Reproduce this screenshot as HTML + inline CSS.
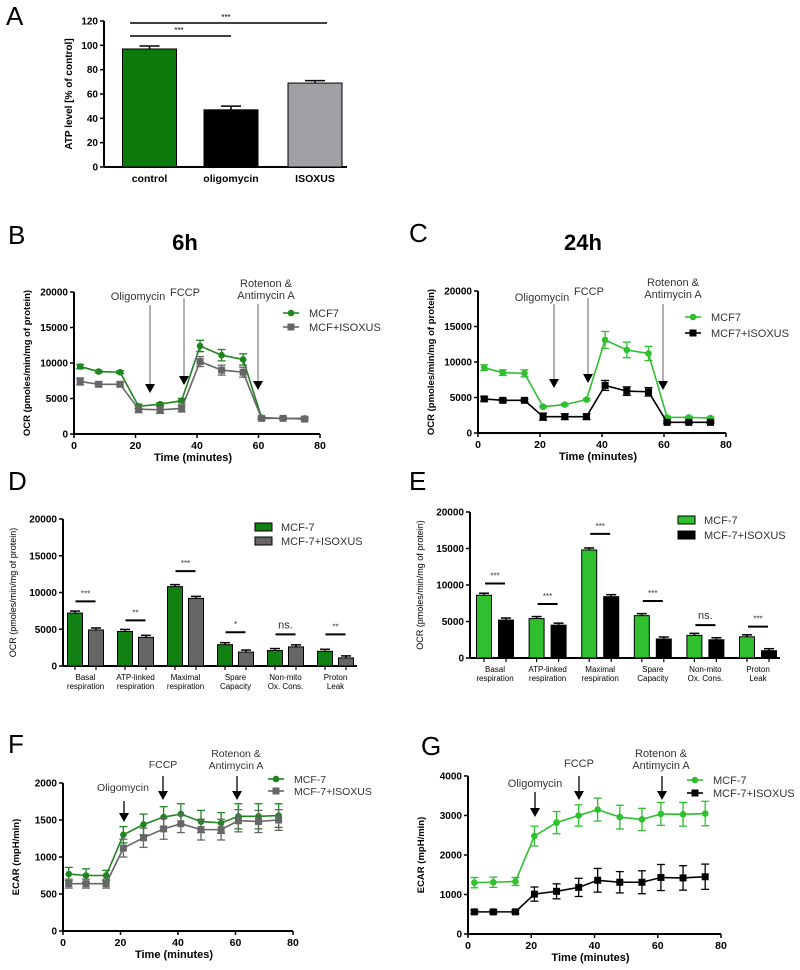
<!DOCTYPE html>
<html><head><meta charset="utf-8"><style>
body{margin:0;background:#fff;}
svg{display:block;font-family:"Liberation Sans",Arial,sans-serif;}
</style></head><body>
<svg id="fig" width="800" height="970" viewBox="0 0 800 970" xmlns="http://www.w3.org/2000/svg"></svg>
<script>
// ---- data ----
const aCats=["control","oligomycin","ISOXUS"];
const aVals=[97,47,69];
const aErrs=[2.5,3,2];
const times=[2,8,15,21,28,35,41,48,55,61,68,75];
const bMcf7=[9500,8800,8700,3900,4200,4700,12400,11100,10500,2300,2200,2200];
const bMcf7Err=[300,200,200,300,200,300,800,800,800,150,150,150];
const bIsox=[7400,7000,7000,3500,3400,3600,10200,9000,8700,2200,2200,2100];
const bIsoxErr=[500,300,300,500,500,500,700,700,700,150,150,150];
const cMcf7=[9200,8500,8400,3700,4000,4700,13100,11700,11200,2200,2200,2100];
const cMcf7Err=[400,400,500,150,150,150,1200,1100,1000,150,150,150];
const cIsox=[4800,4600,4600,2300,2300,2300,6700,5900,5800,1500,1500,1500];
const cIsoxErr=[300,200,200,500,400,400,700,600,600,150,150,150];
const dCats=[["Basal","respiration"],["ATP-linked","respiration"],["Maximal","respiration"],["Spare","Capacity"],["Non-mito","Ox. Cons."],["Proton","Leak"]];
const dMcf7=[7200,4700,10800,2900,2100,2000];
const dIsox=[4900,3900,9200,1900,2600,1100];
const dSig=["***","**","***","*","ns.","**"];
const dSigY=[8800,6200,12900,4600,4300,4300];
const eMcf7=[8600,5400,14800,5800,3100,2900];
const eIsox=[5200,4500,8400,2600,2500,1000];
const eSig=["***","***","***","***","ns.","***"];
const eSigY=[10200,7400,17000,7800,4500,4300];
const fMcf7=[770,750,750,1300,1440,1540,1580,1480,1460,1550,1550,1560];
const fMcf7Err=[90,90,70,110,140,140,140,150,140,170,170,160];
const fIsox=[640,640,640,1120,1260,1380,1450,1370,1370,1490,1480,1500];
const fIsoxErr=[60,60,60,120,130,140,120,140,140,150,150,140];
const gMcf7=[1300,1310,1330,2480,2820,3000,3150,2960,2900,3040,3030,3050];
const gMcf7Err=[130,130,100,250,280,270,290,300,280,290,300,310];
const gIsox=[560,560,560,1010,1080,1180,1360,1310,1310,1430,1420,1450];
const gIsoxErr=[40,40,40,180,190,230,300,270,290,330,310,320];

const NS="http://www.w3.org/2000/svg";
const fig=document.getElementById('fig');
function mk(tag,attrs,parent,txt){const e=document.createElementNS(NS,tag);for(const k in attrs)e.setAttribute(k,attrs[k]);if(txt!==undefined)e.textContent=txt;(parent||fig).appendChild(e);return e;}
function lin(d0,d1,p0,p1){return v=>p0+(v-d0)*(p1-p0)/(d1-d0);}
function grp(name){const g=mk('g',{});


return g;}
function txt(p,x,y,s,size,opts){opts=opts||{};const t=mk('text',{x:x,y:y,'font-size':size,'text-anchor':opts.anchor||'middle','font-weight':opts.bold?'bold':'normal',fill:opts.fill||'#000'},p,s);if(opts.rot)t.setAttribute('transform','rotate(-90 '+x+' '+y+')');


return t;}
function line(p,x1,y1,x2,y2,c,w){return mk('line',{x1:x1,y1:y1,x2:x2,y2:y2,stroke:c||'#000','stroke-width':w||1.5},p);}
function yAxis(p,x,sy,ticks,x2,y0){line(p,x,sy(ticks[ticks.length-1]),x,sy(0)+0.5,'#000',2);line(p,x,sy(0),x2,sy(0),'#000',2);
ticks.forEach(t=>{line(p,x-4,sy(t),x,sy(t),'#000',1.5);txt(p,x-6,sy(t)+3.5,String(t),10,{anchor:'end',bold:true,name:'y-tick-label'});});}
function xTicks(p,sx,y,ticks){ticks.forEach(t=>{line(p,sx(t),y,sx(t),y+4,'#000',1.5);txt(p,sx(t),y+15,String(t),10.5,{bold:true,name:'x-tick-label'});});}
function arrow(p,x,y1,y2,c){line(p,x,y1,x,y2-8,c,1.3);mk('polygon',{points:(x-5)+','+(y2-9)+' '+(x+5)+','+(y2-9)+' '+x+','+y2,fill:'#000'},p);}

// ---- panel letters ----
[["A",6,25],["B",8,244],["C",409,242],["D",8,490],["E",409,490],["F",8,753],["G",421,755]].forEach(a=>{const t=txt(fig,a[1],a[2],a[0],26,{anchor:'start'});});

// ---- panel A ----
(function(){const g=grp('panel-a-chart');const sy=lin(0,120,167,21);
const cx=[149.5,231,315];
yAxis(g,104,sy,[0,20,40,60,80,100,120],347);
const cols=["#0b7a0b","#000","#a0a0a4"];
aVals.forEach((v,i)=>{const r=mk('rect',{x:cx[i]-27,y:sy(v),width:54,height:sy(0)-sy(v),fill:cols[i],stroke:'#000','stroke-width':1},g);


line(g,cx[i],sy(v),cx[i],sy(v+aErrs[i]),'#000',1.5);line(g,cx[i]-10,sy(v+aErrs[i]),cx[i]+10,sy(v+aErrs[i]),'#000',1.5);
txt(g,cx[i],182,aCats[i],10.5,{bold:true,name:'x-category-label'});});
line(g,130,23,327,23,'#000',1.5);line(g,130,36,231,36,'#000',1.5);
txt(g,226,20,'***',8,{name:'significance-label'});txt(g,179,33,'***',8,{name:'significance-label'});
txt(g,72,94,'ATP level [% of control]',10,{bold:true,rot:true,name:'y-axis-title'});})();

// ---- line charts ----
function lineChart(cfg){const g=grp(cfg.name);const sx=lin(0,80,cfg.x0,cfg.x80);const sy=lin(0,cfg.ymax,cfg.y0,cfg.ytop);
yAxis(g,cfg.x0,sy,cfg.yticks,cfg.x80);xTicks(g,sx,cfg.y0,[0,20,40,60,80]);
txt(g,(cfg.x0+cfg.x80)/2-4,cfg.y0+27,'Time (minutes)',11,{bold:true,name:'x-axis-title'});
txt(g,cfg.x0-44,(cfg.y0+cfg.ytop)/2,cfg.ytitle,9.5,{bold:true,rot:true,name:'y-axis-title'});
cfg.series.forEach((s,si)=>{const pts=times.map((t,i)=>sx(t)+','+sy(s.vals[i])).join(' ');
const pl=mk('polyline',{points:pts,fill:'none',stroke:s.col,'stroke-width':1.6},g);


times.forEach((t,i)=>{const x=sx(t),v=s.vals[i],e=s.errs[i];
line(g,x,sy(v-e),x,sy(v+e),s.col,1.3);line(g,x-4,sy(v+e),x+4,sy(v+e),s.col,1.3);line(g,x-4,sy(v-e),x+4,sy(v-e),s.col,1.3);
let m;if(s.sq){m=mk('rect',{x:x-3.5,y:sy(v)-3.5,width:7,height:7,fill:s.col},g);}else{m=mk('circle',{cx:x,cy:sy(v),r:3.3,fill:s.col},g);}

});
const ly=cfg.legY+si*cfg.legDy;line(g,cfg.legX,ly,cfg.legX+16,ly,s.col,1.6);
if(s.sq)mk('rect',{x:cfg.legX+4.5,y:ly-3.5,width:7,height:7,fill:s.col},g);else mk('circle',{cx:cfg.legX+8,cy:ly,r:3.3,fill:s.col},g);
txt(g,cfg.legX+26,ly+4,s.label,cfg.legFont,{anchor:'start',fill:'#333',name:'legend-entry'});});
cfg.arrows.forEach(a=>{arrow(g,a.x,a.y1,a.y2,a.c);a.labels.forEach((l,j)=>txt(g,a.lx,a.ly+j*12,l,cfg.annFont,{fill:'#333',name:'injection-label'}));});}

lineChart({name:'panel-b-chart',x0:74,x80:320,y0:434,ytop:292,ymax:20000,yticks:[0,5000,10000,15000,20000],ytitle:'OCR (pmoles/min/mg of protein)',
legX:283,legY:313,legDy:14,legFont:11,annFont:11,
series:[{key:'mcf7',label:'MCF7',vals:bMcf7,errs:bMcf7Err,col:'#1f861f'},{key:'isoxus',label:'MCF+ISOXUS',vals:bIsox,errs:bIsoxErr,col:'#666',sq:true}],
arrows:[{x:150,y1:305,y2:393,c:'#888',lx:138,ly:300,labels:['Oligomycin']},{x:184,y1:298,y2:385,c:'#888',lx:185,ly:296,labels:['FCCP']},{x:258,y1:304,y2:390,c:'#888',lx:266,ly:287,labels:['Rotenon &','Antimycin A']}]});
lineChart({name:'panel-c-chart',x0:478,x80:726,y0:433,ytop:291,ymax:20000,yticks:[0,5000,10000,15000,20000],ytitle:'OCR (pmoles/min/mg of protein)',
legX:685,legY:317,legDy:16,legFont:11,annFont:11,
series:[{key:'mcf7',label:'MCF7',vals:cMcf7,errs:cMcf7Err,col:'#2fbf2f'},{key:'isoxus',label:'MCF7+ISOXUS',vals:cIsox,errs:cIsoxErr,col:'#000',sq:true}],
arrows:[{x:554,y1:304,y2:388,c:'#888',lx:542,ly:301,labels:['Oligomycin']},{x:588,y1:298,y2:383,c:'#888',lx:589,ly:295,labels:['FCCP']},{x:663,y1:304,y2:390,c:'#888',lx:673,ly:286,labels:['Rotenon &','Antimycin A']}]});
lineChart({name:'panel-f-chart',x0:63,x80:293,y0:931,ytop:783,ymax:2000,yticks:[0,500,1000,1500,2000],ytitle:'ECAR (mpH/min)',
legX:268,legY:779,legDy:12,legFont:10.5,annFont:10.5,
series:[{key:'mcf7',label:'MCF-7',vals:fMcf7,errs:fMcf7Err,col:'#1f861f'},{key:'isoxus',label:'MCF-7+ISOXUS',vals:fIsox,errs:fIsoxErr,col:'#666',sq:true}],
arrows:[{x:124,y1:801,y2:822,c:'#000',lx:123,ly:791,labels:['Oligomycin']},{x:163,y1:776,y2:800,c:'#000',lx:163,ly:768,labels:['FCCP']},{x:237,y1:776,y2:800,c:'#000',lx:236,ly:757,labels:['Rotenon &','Antimycin A']}]});
lineChart({name:'panel-g-chart',x0:468,x80:721,y0:934,ytop:776,ymax:4000,yticks:[0,1000,2000,3000,4000],ytitle:'ECAR (mpH/min)',
legX:687,legY:780,legDy:13,legFont:11,annFont:11,
series:[{key:'mcf7',label:'MCF-7',vals:gMcf7,errs:gMcf7Err,col:'#2fbf2f'},{key:'isoxus',label:'MCF-7+ISOXUS',vals:gIsox,errs:gIsoxErr,col:'#000',sq:true}],
arrows:[{x:535,y1:792,y2:817,c:'#000',lx:535,ly:787,labels:['Oligomycin']},{x:579,y1:776,y2:800,c:'#000',lx:579,ly:767,labels:['FCCP']},{x:662,y1:776,y2:800,c:'#000',lx:661,ly:757,labels:['Rotenon &','Antimycin A']}]});

// ---- bar charts ----
function barChart(cfg){const g=grp(cfg.name);const sy=lin(0,20000,cfg.y0,cfg.ytop);
yAxis(g,cfg.x0,sy,[0,5000,10000,15000,20000],cfg.xEnd);
txt(g,cfg.x0-47,(cfg.y0+cfg.ytop)/2,'OCR (pmoles/min/mg of protein)',9,{rot:true,name:'y-axis-title'});
dCats.forEach((c,i)=>{const gx=cfg.g0+i*cfg.step;
[[cfg.a,cfg.colA,'mcf7',0],[cfg.b,cfg.colB,'isoxus',cfg.off]].forEach(s=>{const v=s[0][i],x=gx+s[3];
line(g,x,sy(v),x,sy(v)-2,'#000',1.5);line(g,x-5,sy(v)-2,x+5,sy(v)-2,'#000',1.5);
const r=mk('rect',{x:x-cfg.bw/2,y:sy(v),width:cfg.bw,height:sy(0)-sy(v),fill:s[1],stroke:'#000','stroke-width':1},g);


line(g,x,sy(0),x,sy(0)+4,'#000',1.2);});
const mx=gx+cfg.off/2;txt(g,mx,cfg.y0+14,c[0],8,{name:'x-category-label'});txt(g,mx,cfg.y0+23,c[1],8,{name:'x-category-label'});
const ly=sy(cfg.sigY[i]);line(g,mx-10,ly,mx+10,ly,'#000',2);
txt(g,mx,ly-(cfg.sig[i]==='ns.'?6:5),cfg.sig[i],cfg.sig[i]==='ns.'?11:8,{fill:'#333',name:'significance-label'});});
[[cfg.colA,'MCF-7'],[cfg.colB,'MCF-7+ISOXUS']].forEach((l,j)=>{const y=cfg.legY+j*cfg.legDy;
mk('rect',{x:cfg.legX,y:y-4,width:17,height:8,fill:l[0],stroke:'#000','stroke-width':1},g);
txt(g,cfg.legX+26,y+4,l[1],11,{anchor:'start',fill:'#333',name:'legend-entry'});});}
barChart({name:'panel-d-chart',x0:63,xEnd:357,y0:666,ytop:519,g0:75,step:50,off:21,bw:15,a:dMcf7,b:dIsox,colA:'#127f12',colB:'#666',sig:dSig,sigY:dSigY,legX:255,legY:527,legDy:14});
barChart({name:'panel-e-chart',x0:470,xEnd:780,y0:658,ytop:512,g0:484,step:52.6,off:22,bw:15,a:eMcf7,b:eIsox,colA:'#2fbf2f',colB:'#000',sig:eSig,sigY:eSigY,legX:678,legY:520,legDy:15});

// ---- titles ----
const t6=txt(fig,185,250,'6h',22,{bold:true});
const t24=txt(fig,583,250,'24h',22,{bold:true});
</script>
</body></html>
